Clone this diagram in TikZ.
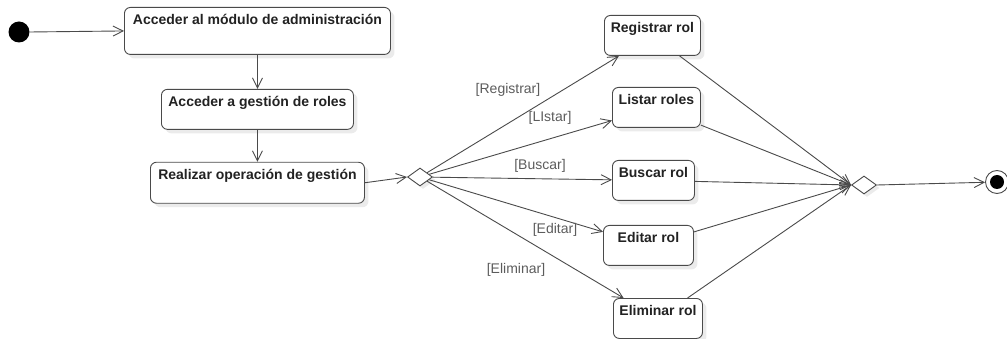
\documentclass[tikz,border=0pt]{standalone}
\usepackage{fontspec}
\setmainfont{Liberation Sans}
\usetikzlibrary{arrows.meta,positioning,shapes.geometric,shadows}
\definecolor{umlline}{HTML}{4A4A4A}
\definecolor{umltext}{HTML}{222222}
\definecolor{umlguard}{HTML}{5C5C5C}
\definecolor{umlshadow}{HTML}{EBEBEB}
\tikzset{
  >={Straight Barb[length=10pt,width=10pt]},
  font=\fontsize{14}{16}\selectfont,
  act/.style={draw=umlline,line width=0.9pt,rounded corners=6pt,fill=white,
              font=\fontsize{14}{16}\selectfont\bfseries,text=umltext,
              inner xsep=2pt,inner ysep=7pt,text height=10pt,text depth=16pt,
              anchor=north west,
              drop shadow={shadow xshift=4pt,shadow yshift=-4pt,fill=umlshadow,opacity=1}},
  decision/.style={diamond,draw=umlline,line width=0.9pt,fill=white,inner sep=0pt,
                   minimum width=25pt,minimum height=18pt,
                   drop shadow={shadow xshift=3pt,shadow yshift=-3pt,fill=umlshadow,opacity=1}},
  initial/.style={circle,fill=black,inner sep=0pt,minimum size=21pt},
  final/.style={circle,draw=umlline,line width=0.9pt,fill=white,inner sep=0pt,minimum size=23pt,
                path picture={\fill[black] (path picture bounding box.center) circle (7pt);}},
  flow/.style={->,line width=0.9pt,draw=umlline},
  guard/.style={text=umlguard,inner sep=0pt},
}
\begin{document}
\begin{tikzpicture}[x=1pt,y=-1pt]
  \useasboundingbox (0,0) rectangle (1007,339);

  % ---- main sequence ----
  \node[initial] (inicio) at (19,32) {};
  \node[act,minimum width=266pt,text depth=23pt] (modulo) at (124,7)
    {Acceder al módulo de administración};
  \node[act,anchor=north,minimum width=192pt,below=34pt of modulo] (gestion)
    {Acceder a gestión de roles};
  \node[act,anchor=north,minimum width=214pt,text depth=17pt,below=32pt of gestion] (operacion)
    {Realizar operación de gestión};
  \draw[flow] (inicio.east) -- (modulo.west);
  \draw[flow] (modulo.south) -- (gestion.north);
  \draw[flow] (gestion.south) -- (operacion.north);

  % ---- branch on the chosen operation ----
  \node[decision] (elegir) at (420,177) {};
  \draw[flow] (operacion.east) -- (elegir.west);

  \node[act,minimum width=96pt] (registrar) at (604,15) {Registrar rol};
  \node[act,minimum width=88pt] (listar) at (612,87) {Listar roles};
  \node[act,minimum width=82pt] (buscar) at (612,160) {Buscar rol};
  \node[act,minimum width=90pt] (editar) at (603,225) {Editar rol};
  \node[act,minimum width=89pt] (eliminar) at (613,298) {Eliminar rol};

  \draw[flow] (elegir) -- (registrar);
  \draw[flow] (elegir) -- (listar);
  \draw[flow] (elegir) -- (buscar);
  \draw[flow] (elegir) -- (editar);
  \draw[flow] (elegir) -- (eliminar);

  \node[guard] (gregistrar) at (508,90) {[Registrar]};
  \node[guard] (glistar) at (550,118) {[LIstar]};
  \node[guard] (gbuscar) at (540,166) {[Buscar]};
  \node[guard] (geditar) at (555,230) {[Editar]};
  \node[guard] (geliminar) at (516,270) {[Eliminar]};

  % ---- merge and end ----
  \node[decision] (unir) at (864,185) {};
  \node[final] (fin) at (997,182) {};
  \foreach \op in {registrar,listar,buscar,editar,eliminar}
    \draw[flow] (\op) -- (unir.west);
  \draw[flow] (unir.east) -- (fin);
\end{tikzpicture}
\end{document}
